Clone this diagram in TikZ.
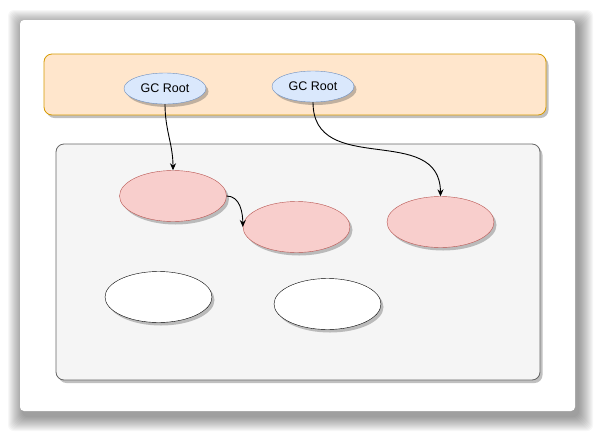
\documentclass[tikz,border=0pt]{standalone}
\usepackage{fontspec}
\setmainfont{Liberation Sans}
\usetikzlibrary{shapes.geometric,shadows,arrows.meta}

\definecolor{bandfill}{HTML}{FFE6CC}
\definecolor{banddraw}{HTML}{D79B00}
\definecolor{heapfill}{HTML}{F5F5F5}
\definecolor{heapdraw}{HTML}{666666}
\definecolor{rootfill}{HTML}{DAE8FC}
\definecolor{rootdraw}{HTML}{6C8EBF}
\definecolor{livefill}{HTML}{F8CECC}
\definecolor{livedraw}{HTML}{B85450}

\tikzset{
  softshadow/.style={drop shadow={shadow xshift=2.5pt, shadow yshift=-3pt, opacity=0.35, fill=black!70}},
  gcroot/.style={ellipse, draw=rootdraw, fill=rootfill, minimum width=82pt, minimum height=31pt,
    inner sep=0pt, font=\fontsize{12.5}{14}\selectfont, softshadow},
  live/.style={ellipse, draw=livedraw, fill=livefill, minimum width=107pt, minimum height=51pt, softshadow},
  dead/.style={ellipse, draw=black, fill=white, minimum width=107pt, minimum height=51pt, softshadow},
  ref/.style={draw=black, line width=0.9pt, -{Stealth[length=7pt,width=6pt]}}
}

\begin{document}
\begin{tikzpicture}[x=1pt, y=-1pt]
  \useasboundingbox (0,0) rectangle (595,432);

  % page card with a soft blurred shadow
  \foreach \r in {1,...,15}
    \fill[black, opacity=0.03, rounded corners=6pt] (23-\r, 25-\r) rectangle (578+\r, 416+\r);
  \node[fill=white, rounded corners=4pt, minimum width=555pt, minimum height=391pt, inner sep=0pt]
    (page) at (297.5,215.5) {};

  % root band
  \node[fill=bandfill, draw=banddraw, line width=0.8pt, rounded corners=8pt, minimum width=502pt,
    minimum height=61pt, inner sep=0pt, softshadow] (band) at (295,84.5) {};

  % heap area
  \node[fill=heapfill, draw=heapdraw, line width=0.8pt, rounded corners=8pt, minimum width=484pt,
    minimum height=236pt, inner sep=0pt, softshadow] (heap) at (298,262) {};

  % roots
  \node[gcroot] (root1) at (165,88.5) {GC Root};
  \node[gcroot] (root2) at (313,86.5) {GC Root};

  % reachable objects
  \node[live] (obj1) at (173,196) {};
  \node[live] (obj2) at (296.5,227) {};
  \node[live] (obj3) at (440.5,222) {};

  % unreachable objects
  \node[dead] (obj4) at (158.5,297) {};
  \node[dead] (obj5) at (327.5,304) {};

  % references
  \draw[ref] (root1.south) to[out=-90, in=90] (obj1.north);
  \draw[ref] (obj1.east) to[out=0, in=90] (obj2.west);
  \draw[ref] (root2.south) .. controls (313,178) and (440,122) .. (obj3.north);

\end{tikzpicture}
\end{document}
